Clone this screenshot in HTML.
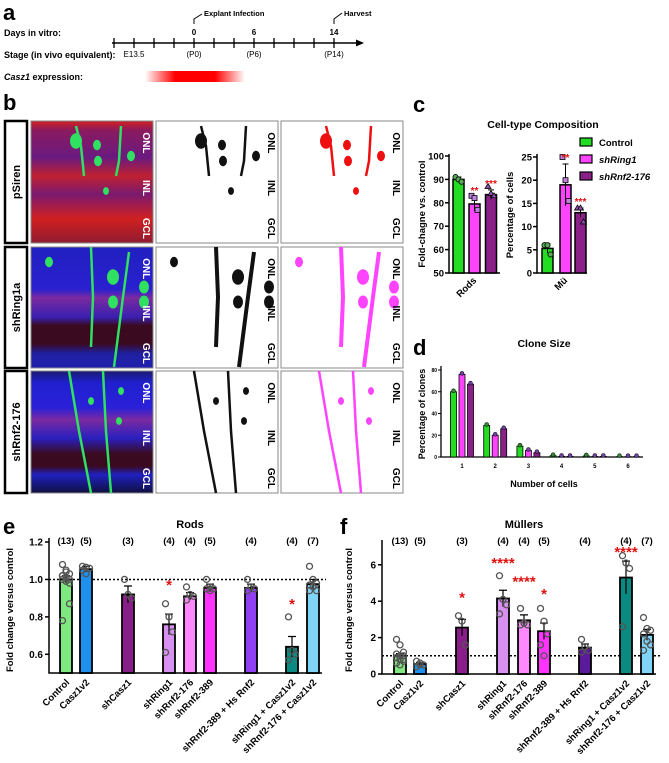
<!DOCTYPE html>
<html><head><meta charset="utf-8"><style>
html,body{margin:0;padding:0;background:#fff;}
svg{display:block;font-family:"Liberation Sans",Arial,sans-serif;}
.b{font-weight:bold;}
</style></head><body>
<svg id="fig" width="669" height="763" viewBox="0 0 669 763" xmlns="http://www.w3.org/2000/svg">
<defs>
<linearGradient id="casz" x1="0" x2="1" y1="0" y2="0">
<stop offset="0" stop-color="#ff0000" stop-opacity="0"/><stop offset="0.3" stop-color="#ff0000"/><stop offset="0.7" stop-color="#ff0000"/><stop offset="1" stop-color="#ff0000" stop-opacity="0"/></linearGradient>
<linearGradient id="f1" x1="0" x2="0" y1="0" y2="1">
<stop offset="0" stop-color="#d02020"/><stop offset="0.08" stop-color="#8a1a60"/><stop offset="0.3" stop-color="#6a1a80"/><stop offset="0.45" stop-color="#c02030"/><stop offset="0.6" stop-color="#7a1a70"/><stop offset="0.8" stop-color="#d02020"/><stop offset="1" stop-color="#901a30"/></linearGradient>
<linearGradient id="f2" x1="0" x2="0" y1="0" y2="1">
<stop offset="0" stop-color="#2020c0"/><stop offset="0.35" stop-color="#2a20d0"/><stop offset="0.42" stop-color="#7a2aa0"/><stop offset="0.58" stop-color="#3a20b0"/><stop offset="0.65" stop-color="#3a0a20"/><stop offset="0.8" stop-color="#3a0a20"/><stop offset="0.88" stop-color="#2020a0"/><stop offset="1" stop-color="#2020b0"/></linearGradient>
<linearGradient id="f3" x1="0" x2="0" y1="0" y2="1">
<stop offset="0" stop-color="#1a1a70"/><stop offset="0.1" stop-color="#2020d0"/><stop offset="0.3" stop-color="#2a20d8"/><stop offset="0.4" stop-color="#7a2aa0"/><stop offset="0.55" stop-color="#2a20c0"/><stop offset="0.68" stop-color="#3a0a20"/><stop offset="0.78" stop-color="#3a0a20"/><stop offset="0.85" stop-color="#2020c0"/><stop offset="1" stop-color="#101040"/></linearGradient>
</defs>

<g>
<text x="3" y="20" font-size="22" class="b">a</text>
<text x="4" y="36" font-size="9" class="b">Days in vitro:</text>
<text x="4" y="58" font-size="9" class="b">Stage (in vivo equivalent):</text>
<text x="4" y="80" font-size="9" class="b"><tspan font-style="italic">Casz1</tspan> expression:</text>
<line x1="112" y1="43" x2="358" y2="43" stroke="#000" stroke-width="1.5"/>
<polygon points="364,43 356,39.5 356,46.5" fill="#000"/>
<g id="aticks"></g>
<text x="194" y="35" font-size="8" class="b" text-anchor="middle">0</text>
<text x="254" y="35" font-size="8" class="b" text-anchor="middle">6</text>
<text x="334" y="35" font-size="8" class="b" text-anchor="middle">14</text>
<text x="134" y="57" font-size="8" text-anchor="middle">E13.5</text>
<text x="194" y="57" font-size="8" text-anchor="middle">(P0)</text>
<text x="254" y="57" font-size="8" text-anchor="middle">(P6)</text>
<text x="334" y="57" font-size="8" text-anchor="middle">(P14)</text>
<polyline points="194,24 194,19 202,14" fill="none" stroke="#000" stroke-width="1"/>
<text x="204" y="16" font-size="7.5" class="b">Explant Infection</text>
<polyline points="334,24 334,19 342,13" fill="none" stroke="#000" stroke-width="1"/>
<text x="344" y="16" font-size="7.5" class="b">Harvest</text>
<rect x="145" y="71" width="100" height="11" fill="url(#casz)"/>
</g>

<g>
<text x="3" y="110" font-size="22" class="b">b</text>
<g id="bimgs"></g>
</g>

<g>
<text x="413" y="112" font-size="22" class="b">c</text>
<text x="543" y="128" font-size="10.5" class="b" text-anchor="middle">Cell-type Composition</text>
<text transform="translate(425,214) rotate(-90)" font-size="9.5" class="b" text-anchor="middle">Fold-chagne vs. control</text>
<text transform="translate(513,215) rotate(-90)" font-size="9.5" class="b" text-anchor="middle">Percentage of cells</text>
<g id="cchart"></g>
<g>
<rect x="580" y="138" width="12" height="8" fill="#22dd22" stroke="#000" stroke-width="1.2"/>
<text x="599" y="146" font-size="9.5" class="b">Control</text>
<rect x="580" y="155" width="12" height="8" fill="#ff44ff" stroke="#000" stroke-width="1.2"/>
<text x="599" y="163" font-size="9.5" class="b" font-style="italic">shRing1</text>
<rect x="580" y="172" width="12" height="8" fill="#8a2088" stroke="#000" stroke-width="1.2"/>
<text x="599" y="180" font-size="9.5" class="b" font-style="italic">shRnf2-176</text>
</g>
</g>

<g>
<text x="413" y="355" font-size="22" class="b">d</text>
<text x="544" y="347" font-size="10.5" class="b" text-anchor="middle">Clone Size</text>
<text transform="translate(425,414) rotate(-90)" font-size="9" class="b" text-anchor="middle">Percentage of clones</text>
<text x="544" y="487" font-size="9" class="b" text-anchor="middle">Number of cells</text>
<g id="dchart"></g>
</g>

<g>
<text x="3" y="534" font-size="22" class="b">e</text>
<text x="190" y="528" font-size="11" class="b" text-anchor="middle">Rods</text>
<text transform="translate(13,610) rotate(-90)" font-size="9.5" class="b" text-anchor="middle">Fold change versus control</text>
<g id="echart"></g>
</g>

<g>
<text x="340" y="534" font-size="22" class="b">f</text>
<text x="524" y="528" font-size="11" class="b" text-anchor="middle">Müllers</text>
<text transform="translate(352,610) rotate(-90)" font-size="9.5" class="b" text-anchor="middle">Fold change versus control</text>
<g id="fchart"></g>
</g>
</svg>
<script>
const groupNames = ["Control","Casz1v2","shCasz1","shRing1","shRnf2-176","shRnf2-389","shRnf2-389 + Hs Rnf2","shRing1 + Casz1v2","shRnf2-176 + Casz1v2"];
const groupN = ["(13)","(5)","(3)","(4)","(4)","(5)","(4)","(4)","(7)"];
const groupColors = ["#80e880","#1e90f0","#8a1e88","#d890f0","#ff88ff","#ff33ff","#9040f0","#0a8a80","#80d4f8"];
const muellerColors = ["#80e880","#1e90f0","#8a1e88","#d890f0","#ff88ff","#ff33ff","#5a1a9a","#0a8a80","#80d4f8"];
const rodMeans = [1.00,1.055,0.92,0.76,0.91,0.955,0.955,0.64,0.975];
const rodErr = [0.02,0.015,0.045,0.055,0.02,0.02,0.02,0.055,0.025];
const rodPoints = [[1.08,1.05,1.03,1.02,1.01,1.0,1.0,0.99,0.98,1.02,1.04,0.87,0.78],[1.07,1.065,1.06,1.05,1.03],[1.0,0.92,0.9],[0.87,0.8,0.72,0.61],[0.96,0.92,0.91,0.89],[1.0,0.96,0.95,0.95,0.94],[1.0,0.96,0.95,0.94],[0.8,0.62,0.6,0.57],[1.07,1.0,0.98,0.97,0.96,0.94,0.94]];
const rodStars = ["","","","*","","","","*",""];
const rodStarY = [0,0,0,0.98,0,0,0,0.88,0];
const rodTicks = [0.6,0.8,1.0,1.2];
const mulMeans = [1.0,0.55,2.55,4.15,2.95,2.35,1.45,5.3,2.15];
const mulErr = [0.12,0.08,0.45,0.45,0.3,0.45,0.2,0.9,0.3];
const mulPoints = [[1.9,1.6,1.2,1.1,1.0,1.0,0.9,0.8,0.7,0.6,0.5,0.8,0.9],[0.7,0.6,0.5,0.4,0.5],[3.2,2.9,1.6],[5.4,4.1,3.8,3.3],[3.6,2.8,2.7,2.7],[3.6,2.9,2.2,1.6,1.0],[1.9,1.5,1.3,1.2],[6.5,6.1,5.8,2.6],[3.1,2.5,2.4,2.2,1.8,1.6,1.3]];
const mulStars = ["","","*","****","****","*","","****",""];
const mulStarY = [0,0,4.3,6.2,5.2,4.5,0,6.8,0];
const mulTicks = [0,2,4,6];

const cGroups = ["Control","shRing1","shRnf2-176"];
const cColors = ["#22dd22","#ff44ff","#8a2088"];
const cRodMeans = [90,79.5,83.5];
const cRodErr = [1,3,2];
const cRodPts = [[91,90,89],[83,82,77],[87,84,83]];
const cMuMeans = [5.3,19,13];
const cMuErr = [1,4.5,1];
const cMuPts = [[6,6,4],[25,20,15.5],[14,14,11]];
const cRodTicks = [50,60,70,80,90,100];
const cMuTicks = [0,5,10,15,20,25];
const cRodStars = ["","**","***"];
const cMuStars = ["","**","***"];

const dCats = ["1","2","3","4","5","6"];
const dControl = [60,29,10,1.2,1,0.3];
const dRing = [76,20,6,0.5,0.5,0.3];
const dRnf = [67,26,4,0.5,0.5,0.3];
const dTicks = [0,20,40,60,80];

const NS="http://www.w3.org/2000/svg";
function mk(parent,tag,attrs,txt){const e=document.createElementNS(NS,tag);for(const k in attrs)e.setAttribute(k,attrs[k]);if(txt!==undefined)e.textContent=txt;parent.appendChild(e);return e;}

(function(){const g=document.getElementById('aticks');for(let i=0;i<12;i++){const x=114+i*20;const l=mk(g,'line',{x1:x,x2:x,y1:38,y2:48,stroke:'#000','stroke-width':1.3});

}})();

(function(){
const g=document.getElementById('bimgs');
const rows=[{y:121,h:122,name:'pSiren',fill:'url(#f1)',col:'#ff2a2a'},{y:247,h:121,name:'shRing1a',fill:'url(#f2)',col:'#ff44ff'},{y:371,h:122,name:'shRnf2-176',fill:'url(#f3)',col:'#ff44ff'}];
const lines=[[[[65,5],[70,25],[73,55]],[[110,5],[108,40],[105,55]]],[[[80,0],[82,50],[80,100]],[[118,5],[112,50],[103,120]]],[[[58,0],[68,60],[80,122]],[[92,0],[95,60],[100,122]]]];
const blobs=[[[45,20,6],[66,24,4],[67,40,4],[100,35,4],[75,70,3]],[[18,15,4],[82,30,6],[82,55,5],[113,40,5],[113,55,5]],[[60,30,3],[90,20,3],[88,50,3]]];
rows.forEach((r,ri)=>{
 const box=mk(g,'rect',{x:5,y:r.y,width:22,height:r.h,fill:'#fff',stroke:'#000','stroke-width':2.5});
 
 
 const t=mk(g,'text',{transform:`translate(20,${r.y+r.h/2}) rotate(-90)`,'font-size':11,'font-weight':'bold','text-anchor':'middle'},r.name);
 
 
 [31,156,281].forEach((x,ci)=>{
  const im=mk(g,'rect',{x:x,y:r.y,width:122,height:r.h,fill:ci===0?r.fill:'#fff',stroke:'#888','stroke-width':1});
  
  
  const stroke=ci===0?'#30e060':(ci===1?'#111':(ri===0?'#ee1010':r.col));
  lines[ri].forEach(pl=>{
   const pts=pl.map(p=>`${x+p[0]-20},${r.y+p[1]}`).join(' ');
   const l=mk(g,'polyline',{points:pts,fill:'none',stroke:stroke,'stroke-width':ri===1&&ci>0?4:2.5});
   
   
  });
  blobs[ri].forEach(b=>{
   const c=mk(g,'ellipse',{cx:x+b[0]-20+20,cy:r.y+b[1],rx:b[2],ry:b[2]*1.3,fill:stroke});
   
   
  });
  const labs=['ONL','INL','GCL'];const ly=[0.18,0.55,0.88];
  labs.forEach((lb,li)=>{
   const tt=mk(g,'text',{transform:`translate(${x+112},${r.y+r.h*ly[li]}) rotate(90)`,'font-size':10,'font-weight':'bold','text-anchor':'middle',fill:ci===0?'#fff':'#000'},lb);
   
   
  });
 });
});
})();

function barChart(gid,xs,yfn,means,errs,pts,colors,ticks,axisX,axisTop,baseY,axisEnd,refVal,stars,starY,tickFmt){
 const g=document.getElementById(gid);
 const ax=mk(g,'polyline',{points:`${axisX},${axisTop} ${axisX},${baseY} ${axisEnd},${baseY}`,fill:'none',stroke:'#000','stroke-width':1.5});
 
 
 ticks.forEach(t=>{const y=yfn(t);
  const l=mk(g,'line',{x1:axisX-4,x2:axisX,y1:y,y2:y,stroke:'#000','stroke-width':1.5});
  
  
  const tx=mk(g,'text',{x:axisX-6,y:y+3.5,'font-size':10,'font-weight':'bold','text-anchor':'end'},tickFmt(t));
  
  });
 const rl=mk(g,'line',{x1:axisX,x2:axisEnd+4,y1:yfn(refVal),y2:yfn(refVal),stroke:'#000','stroke-width':1.5,'stroke-dasharray':'2,2'});
 
 
 means.forEach((m,i)=>{
  const cx=xs[i],w=12;
  const b=mk(g,'rect',{x:cx-w/2,y:yfn(m),width:w,height:baseY-yfn(m),fill:colors[i],stroke:'#000','stroke-width':1.8});
  
  
  const e=mk(g,'path',{d:`M${cx},${yfn(m-errs[i])}V${yfn(m+errs[i])}M${cx-4},${yfn(m+errs[i])}H${cx+4}`,stroke:'#000','stroke-width':1.2,fill:'none'});
  
  
  pts[i].forEach((p,j)=>{const dx=((j%3)-1)*3.5;
   const c=mk(g,'circle',{cx:cx+dx,cy:yfn(p),r:3,fill:'none',stroke:'#555','stroke-width':1.3});
   
   });
  const n=mk(g,'text',{x:cx,y:544,'font-size':9.5,'font-weight':'bold','text-anchor':'middle'},groupN[i]);
  
  
  const xl=mk(g,'text',{transform:`translate(${cx+4},${baseY+10}) rotate(-45)`,'font-size':9.5,'font-weight':'bold','text-anchor':'end'},groupNames[i]);
  
  
  if(stars[i]){const s=mk(g,'text',{x:cx,y:yfn(starY[i])+7,'font-size':15,'font-weight':'bold','text-anchor':'middle',fill:'#e01010'},stars[i]);
   
   }
 });
}
const eXs=[66,86,128,169,190,210,251,292,313];
barChart('echart',eXs,v=>673-(v-0.5)*187.1,rodMeans,rodErr,rodPoints,groupColors,rodTicks,49,538,673,322,1.0,rodStars,rodStarY,t=>t.toFixed(1));
const fXs=eXs.map(x=>x+334);
barChart('fchart',fXs,v=>674-v*18.2,mulMeans,mulErr,mulPoints,muellerColors,mulTicks,382,540,674,656,1.0,mulStars,mulStarY,t=>String(t));

function smallBars(g,xs,yfn,means,errs,pts,ticks,axisX,axisTop,baseY,axisEnd,stars,label,labelX){
 const ax=mk(g,'polyline',{points:`${axisX},${axisTop} ${axisX},${baseY} ${axisEnd},${baseY}`,fill:'none',stroke:'#000','stroke-width':1.5});
 
 
 ticks.forEach(t=>{const y=yfn(t);
  const l=mk(g,'line',{x1:axisX-4,x2:axisX,y1:y,y2:y,stroke:'#000','stroke-width':1.5});
  
  
  const tx=mk(g,'text',{x:axisX-5,y:y+3.5,'font-size':9.5,'font-weight':'bold','text-anchor':'end'},String(t));
  
  });
 means.forEach((m,i)=>{
  const b=mk(g,'rect',{x:xs[i]-5.5,y:yfn(m),width:11,height:baseY-yfn(m),fill:cColors[i],stroke:'#000','stroke-width':1.5});
  
  
  const e=mk(g,'path',{d:`M${xs[i]},${yfn(m-errs[i])}V${yfn(m+errs[i])}M${xs[i]-3},${yfn(m+errs[i])}H${xs[i]+3}`,stroke:'#000','stroke-width':1,fill:'none'});
  
  
  pts[i].forEach((p,j)=>{const px=xs[i]+(j-1)*3,py=yfn(p);
   let s;
   if(i===0)s=mk(g,'circle',{cx:px,cy:py,r:2.6,fill:'#55aa55',stroke:'#000','stroke-width':0.8});
   else if(i===1)s=mk(g,'rect',{x:px-2.5,y:py-2.5,width:5,height:5,fill:'#c080e0',stroke:'#000','stroke-width':0.8});
   else s=mk(g,'polygon',{points:`${px},${py-3} ${px-3},${py+2} ${px+3},${py+2}`,fill:'#9050b0',stroke:'#000','stroke-width':0.8});
   
   });
  if(stars[i]){const s=mk(g,'text',{x:xs[i],y:yfn(m+errs[i])-3,'font-size':10,'font-weight':'bold','text-anchor':'middle',fill:'#e01010'},stars[i]);
   
   }
 });
 const xl=mk(g,'text',{transform:`translate(${labelX+3},${baseY+8}) rotate(-45)`,'font-size':9.5,'font-weight':'bold','text-anchor':'end'},label);
 
 
}
(function(){const g=document.getElementById('cchart');
smallBars(g,[458.5,474.5,491],v=>273-(v-50)*2.34,cRodMeans,cRodErr,cRodPts,cRodTicks,449,154,273,500,cRodStars,'Rods',474);
smallBars(g,[547.5,565.5,580.5],v=>273-v*4.64,cMuMeans,cMuErr,cMuPts,cMuTicks,537,154,273,587,cMuStars,'Mü',565);
})();

(function(){const g=document.getElementById('dchart');
 const yf=v=>457-v*1.0875;const ax0=441,axEnd=643;
 const ax=mk(g,'polyline',{points:`${ax0},${366} ${ax0},457 ${axEnd},457`,fill:'none',stroke:'#000','stroke-width':1.3});
 
 
 dTicks.forEach(t=>{const y=yf(t);
  const l=mk(g,'line',{x1:ax0-3,x2:ax0,y1:y,y2:y,stroke:'#000','stroke-width':1});
  
  
  const tx=mk(g,'text',{x:ax0-4,y:y+2,'font-size':5,'font-weight':'bold','text-anchor':'end'},String(t));
  
  });
 const series=[dControl,dRing,dRnf];
 dCats.forEach((c,i)=>{const cx=462+i*33.2;
  series.forEach((s,k)=>{const x=cx+(k-1)*8.5,v=s[i];
   const b=mk(g,'rect',{x:x-3,y:yf(v),width:6,height:457-yf(v),fill:cColors[k],stroke:'#000','stroke-width':0.8});
   
   
   const p=mk(g,'circle',{cx:x,cy:yf(v)-1,r:2,fill:k===0?'#338833':'#7040a0',stroke:'#000','stroke-width':0.5});
   
   
  });
  const t=mk(g,'text',{x:cx,y:468,'font-size':6,'font-weight':'bold','text-anchor':'middle'},c);
  
  
 });
})();
</script>
</body></html>
